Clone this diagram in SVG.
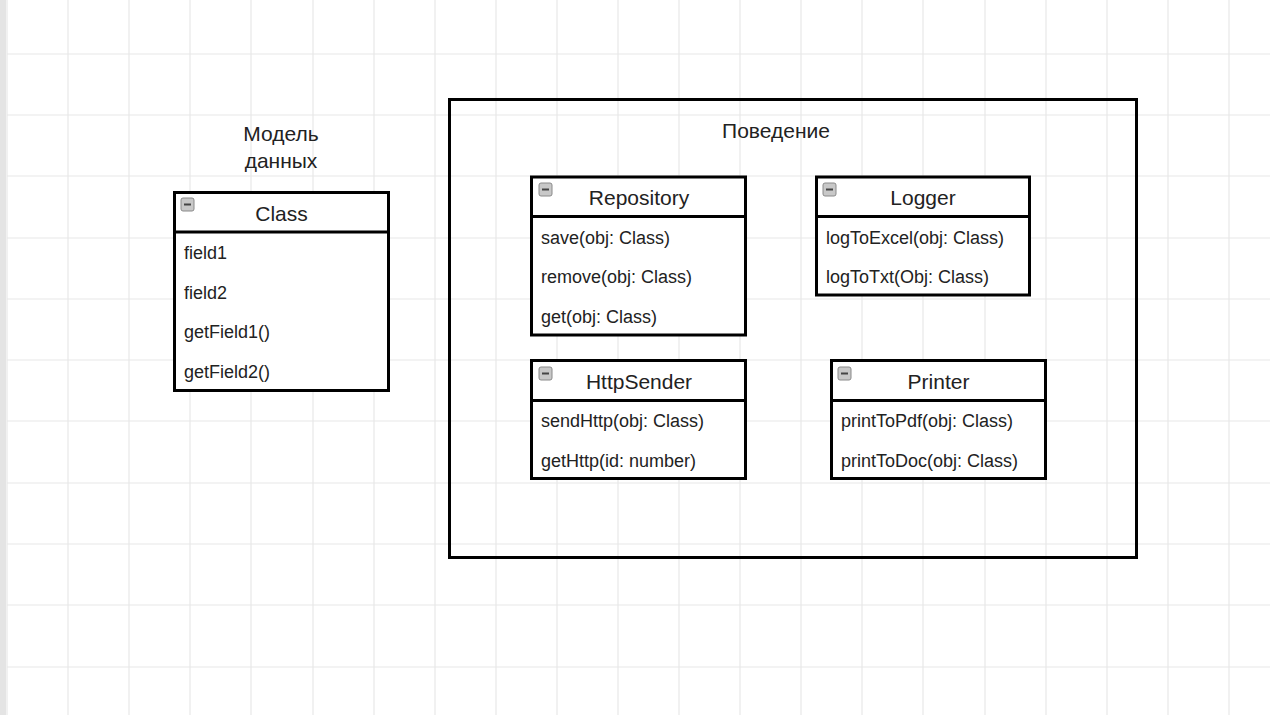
<svg xmlns="http://www.w3.org/2000/svg" width="1284" height="722" viewBox="0 0 1284 722">
<defs>
<style>
.grid line{stroke:#e8e8e8;stroke-width:1.2}
.box{fill:#fff;stroke:#000;stroke-width:3}
.div{stroke:#000;stroke-width:3}
.t{font-family:"Liberation Sans",Arial,sans-serif;fill:#222}
.h{font-size:21px;text-anchor:middle}
.i{font-size:18px}
.lbl{font-size:21px;text-anchor:middle}
</style>
<g id="icon">
<rect x="0" y="0" width="13" height="13" rx="2" fill="#c8c8c8" stroke="#8a8a8a" stroke-width="1"/>
<rect x="3" y="5.5" width="7" height="2" fill="#444"/>
</g>
</defs>
<rect x="0" y="0" width="1284" height="722" fill="#fff"/>
<rect x="0" y="0" width="6" height="722" fill="#e4e4e4"/>
<g class="grid">
<line x1="7" y1="0" x2="7" y2="715"/>
<line x1="68" y1="0" x2="68" y2="715"/>
<line x1="129" y1="0" x2="129" y2="715"/>
<line x1="190" y1="0" x2="190" y2="715"/>
<line x1="251" y1="0" x2="251" y2="715"/>
<line x1="313" y1="0" x2="313" y2="715"/>
<line x1="374" y1="0" x2="374" y2="715"/>
<line x1="435" y1="0" x2="435" y2="715"/>
<line x1="496" y1="0" x2="496" y2="715"/>
<line x1="557" y1="0" x2="557" y2="715"/>
<line x1="618" y1="0" x2="618" y2="715"/>
<line x1="679" y1="0" x2="679" y2="715"/>
<line x1="740" y1="0" x2="740" y2="715"/>
<line x1="801" y1="0" x2="801" y2="715"/>
<line x1="862" y1="0" x2="862" y2="715"/>
<line x1="923" y1="0" x2="923" y2="715"/>
<line x1="985" y1="0" x2="985" y2="715"/>
<line x1="1046" y1="0" x2="1046" y2="715"/>
<line x1="1107" y1="0" x2="1107" y2="715"/>
<line x1="1168" y1="0" x2="1168" y2="715"/>
<line x1="1229" y1="0" x2="1229" y2="715"/>
<line x1="7" y1="54" x2="1270" y2="54"/>
<line x1="7" y1="115" x2="1270" y2="115"/>
<line x1="7" y1="176" x2="1270" y2="176"/>
<line x1="7" y1="238" x2="1270" y2="238"/>
<line x1="7" y1="299" x2="1270" y2="299"/>
<line x1="7" y1="360" x2="1270" y2="360"/>
<line x1="7" y1="421" x2="1270" y2="421"/>
<line x1="7" y1="483" x2="1270" y2="483"/>
<line x1="7" y1="544" x2="1270" y2="544"/>
<line x1="7" y1="605" x2="1270" y2="605"/>
<line x1="7" y1="667" x2="1270" y2="667"/>
</g>
<rect x="1271" y="0" width="13" height="722" fill="#fff"/>
<rect x="0" y="715" width="1284" height="7" fill="#fff"/>

<g id="model-label">
<text class="t lbl" x="281" y="141">Модель</text>
<text class="t lbl" x="281" y="168">данных</text>
</g>

<g id="behavior">
<rect x="449.5" y="99.5" width="687" height="458" fill="none" stroke="#000" stroke-width="3"/>
<text class="t lbl" x="776" y="138">Поведение</text>
</g>

<g id="class">
<rect class="box" x="174.5" y="192.5" width="214" height="198"/>
<line class="div" x1="174.5" y1="232" x2="388.5" y2="232"/>
<use href="#icon" x="181" y="198"/>
<text class="t h" x="281.5" y="221">Class</text>
<text class="t i" x="184" y="259">field1</text>
<text class="t i" x="184" y="299">field2</text>
<text class="t i" x="184" y="338">getField1()</text>
<text class="t i" x="184" y="378">getField2()</text>
</g>

<g id="repository">
<rect class="box" x="531.5" y="177" width="214" height="158"/>
<line class="div" x1="531.5" y1="216.5" x2="745.5" y2="216.5"/>
<use href="#icon" x="539" y="183"/>
<text class="t h" x="639" y="205">Repository</text>
<text class="t i" x="541" y="244">save(obj: Class)</text>
<text class="t i" x="541" y="283">remove(obj: Class)</text>
<text class="t i" x="541" y="323">get(obj: Class)</text>
</g>

<g id="logger">
<rect class="box" x="816.5" y="177" width="213" height="118"/>
<line class="div" x1="816.5" y1="216.5" x2="1029.5" y2="216.5"/>
<use href="#icon" x="823" y="183"/>
<text class="t h" x="923" y="205">Logger</text>
<text class="t i" x="826" y="244">logToExcel(obj: Class)</text>
<text class="t i" x="826" y="283">logToTxt(Obj: Class)</text>
</g>

<g id="httpsender">
<rect class="box" x="531.5" y="360.5" width="214" height="118"/>
<line class="div" x1="531.5" y1="400.5" x2="745.5" y2="400.5"/>
<use href="#icon" x="539" y="367"/>
<text class="t h" x="639" y="389">HttpSender</text>
<text class="t i" x="541" y="427">sendHttp(obj: Class)</text>
<text class="t i" x="541" y="467">getHttp(id: number)</text>
</g>

<g id="printer">
<rect class="box" x="831.5" y="360.5" width="214" height="118"/>
<line class="div" x1="831.5" y1="400.5" x2="1045.5" y2="400.5"/>
<use href="#icon" x="838" y="367"/>
<text class="t h" x="938.5" y="389">Printer</text>
<text class="t i" x="841" y="427">printToPdf(obj: Class)</text>
<text class="t i" x="841" y="467">printToDoc(obj: Class)</text>
</g>

<g id="connectors"></g>
</svg>
